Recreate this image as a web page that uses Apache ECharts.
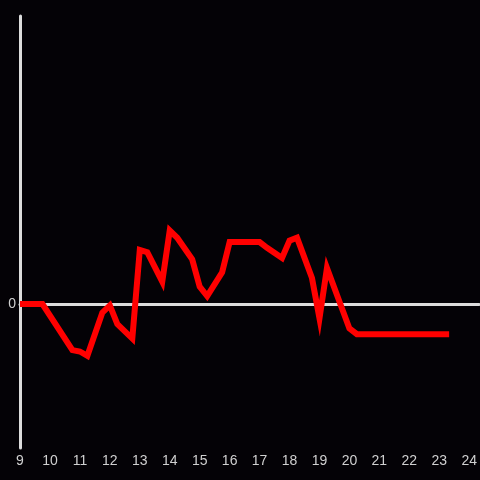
<!DOCTYPE html>
<html>
<head>
<meta charset="utf-8">
<script src="https://cdn.jsdelivr.net/npm/echarts@6/dist/echarts.min.js"></script>
<style>
html,body{margin:0;padding:0;background:#040206;}
#c{width:480px;height:480px;}
</style>
</head>
<body>
<div id="c"></div>
<script>
const times = [9, 9.75, 10.75, 11.0, 11.25, 11.75, 12.0, 12.25, 12.75, 13.0, 13.25, 13.75, 14.0, 14.25, 14.75, 15.0, 15.25, 15.75, 16.0, 17.0, 17.25, 17.75, 18.0, 18.25, 18.75, 19.0, 19.25, 20.0, 20.25, 23.33];
const values = [0, 0, -0.32, -0.33, -0.36, -0.06, -0.01, -0.14, -0.24, 0.375, 0.36, 0.155, 0.51, 0.46, 0.31, 0.12, 0.055, 0.22, 0.43, 0.43, 0.39, 0.32, 0.44, 0.46, 0.18, -0.10, 0.25, -0.17, -0.21, -0.21];
const yTicks = [0];

const chart = echarts.init(document.getElementById('c'), null, {renderer: 'canvas'});
chart.setOption({
  backgroundColor: '#040206',
  animation: false,
  grid: {left: 20, right: 0, top: 16, bottom: 32, containLabel: false},
  xAxis: {
    type: 'value', min: 9, max: 24 + 10/30, interval: 1,
    axisLine: {onZero: true, lineStyle: {color: '#dcdcdc', width: 3}},
    axisTick: {show: false},
    splitLine: {show: false},
    axisLabel: {color: '#d0d0d0', fontSize: 14, fontFamily: 'Liberation Sans, Arial, sans-serif', margin: 6, showMaxLabel: false,
      formatter: v => Number.isInteger(v) ? String(v) : ''}
  },
  yAxis: {
    type: 'value', min: -1, max: 2, interval: 1,
    axisLine: {show: true, onZero: false, lineStyle: {color: '#dcdcdc', width: 3}},
    axisTick: {show: false},
    splitLine: {show: false},
    axisLabel: {color: '#d0d0d0', fontSize: 14, fontFamily: 'Liberation Sans, Arial, sans-serif', margin: 4,
      formatter: v => yTicks.includes(v) ? String(v) : ''}
  },
  series: [{
    type: 'line',
    data: times.map((t, i) => [t, values[i]]),
    symbol: 'none',
    lineStyle: {color: '#ff0000', width: 6, cap: 'butt', join: 'miter'},
    z: 1
  }]
});
</script>
</body>
</html>
